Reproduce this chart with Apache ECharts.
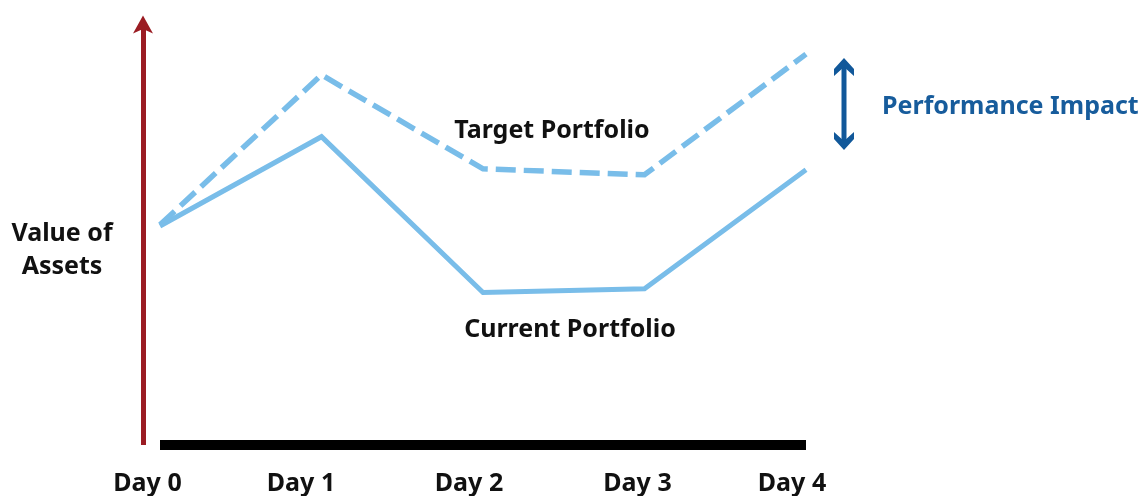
<!DOCTYPE html>
<html>
<head>
<meta charset="utf-8">
<script src="https://cdn.jsdelivr.net/npm/echarts@6/dist/echarts.min.js"></script>
<style>
html,body{margin:0;padding:0;background:#fff;}
#c{width:1143px;height:496px;}
</style>
</head>
<body>
<div id="c"></div>
<script>
// ---- data ----
var categories = ['Day 0', 'Day 1', 'Day 2', 'Day 3', 'Day 4'];
var currentPortfolio = [51.7, 72.8, 36.0, 36.9, 65.0];
var targetPortfolio = [52.0, 87.4, 65.2, 63.8, 92.3];
var seriesNames = ['Current Portfolio', 'Target Portfolio'];
var axisTitle = ['Value of', 'Assets'];
var impactLabel = 'Performance Impact';

var FONT = '"Noto Sans", "Open Sans", sans-serif';
var LINE = '#79bde9';
var labelShift = [25, 41, 28, 14, 28]; // right padding to shift labels left

var rich = {};
labelShift.forEach(function (s, i) {
  rich['d' + i] = { fontFamily: FONT, fontWeight: 'bold', fontSize: 25, color: '#111', padding: [0, s, 0, 0] };
});

var chart = echarts.init(document.getElementById('c'), null, { renderer: 'canvas' });
chart.setOption({
  animation: false,
  backgroundColor: '#fff',
  grid: { left: 160, right: 337, top: 21.5, bottom: 50.5, containLabel: false },
  xAxis: {
    type: 'category',
    data: categories,
    boundaryGap: false,
    axisLine: { show: true, lineStyle: { color: '#000', width: 10, cap: 'butt' } },
    axisTick: { show: false },
    splitLine: { show: false },
    axisLabel: {
      margin: 26,
      formatter: function (v, i) { return '{d' + i + '|' + v + '}'; },
      rich: rich
    }
  },
  yAxis: {
    type: 'value',
    min: 0,
    max: 100,
    offset: 17,
    axisLine: {
      show: true,
      symbol: ['none', 'arrow'],
      symbolSize: [15, 18],
      symbolOffset: [0, 6],
      lineStyle: { color: '#9b1c23', width: 5, cap: 'butt' }
    },
    axisTick: { show: false },
    axisLabel: { show: false },
    splitLine: { show: false }
  },
  series: [
    {
      name: seriesNames[0],
      type: 'line',
      data: currentPortfolio,
      symbol: 'none',
      lineStyle: { color: LINE, width: 5, join: 'miter' },
      z: 3
    },
    {
      name: seriesNames[1],
      type: 'line',
      data: targetPortfolio,
      symbol: 'none',
      lineStyle: { color: LINE, width: 5.5, type: [20, 8], join: 'miter' },
      z: 3
    }
  ],
  graphic: [
    {
      type: 'text', x: 552, y: 131,
      style: { text: seriesNames[1], fontFamily: FONT, fontWeight: 'bold', fontSize: 25, fill: '#111', align: 'center', verticalAlign: 'middle' }
    },
    {
      type: 'text', x: 570, y: 330,
      style: { text: seriesNames[0], fontFamily: FONT, fontWeight: 'bold', fontSize: 25, fill: '#111', align: 'center', verticalAlign: 'middle' }
    },
    {
      type: 'text', x: 62, y: 250,
      style: { text: axisTitle.join('\n'), fontFamily: FONT, fontWeight: 'bold', fontSize: 25, lineHeight: 33, fill: '#111', align: 'center', verticalAlign: 'middle' }
    },
    {
      type: 'text', x: 882, y: 107,
      style: { text: impactLabel, fontFamily: FONT, fontWeight: 'bold', fontSize: 25, fill: '#175c9c', align: 'left', verticalAlign: 'middle' }
    },
    {
      type: 'line',
      shape: { x1: 844, y1: 64, x2: 844, y2: 144 },
      style: { stroke: '#11589a', lineWidth: 5 }
    },
    {
      type: 'polygon',
      shape: { points: [[844, 58], [854, 69], [854, 76], [844, 67], [834, 76], [834, 69]] },
      style: { fill: '#11589a' }
    },
    {
      type: 'polygon',
      shape: { points: [[844, 150], [854, 139], [854, 132], [844, 141], [834, 132], [834, 139]] },
      style: { fill: '#11589a' }
    }
  ]
});
</script>
</body>
</html>
